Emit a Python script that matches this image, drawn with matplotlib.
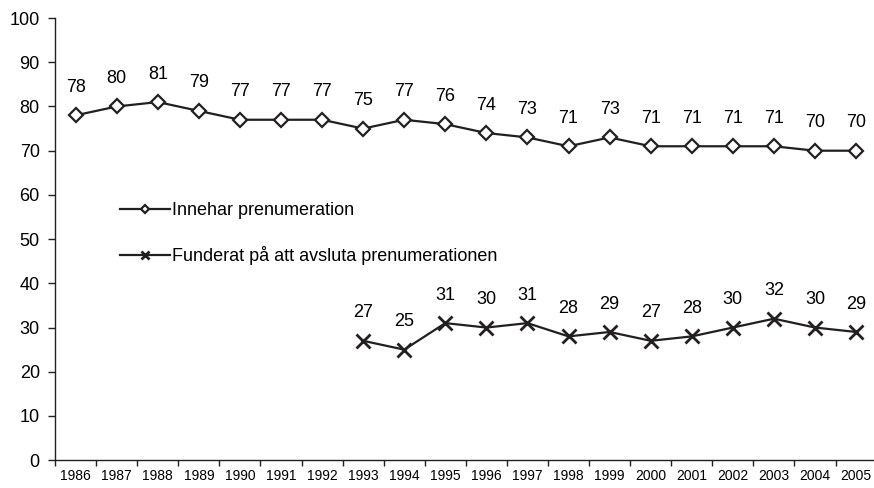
import numpy as np
import matplotlib.pyplot as plt

plt.rcParams['font.family'] = ['Liberation Sans', 'DejaVu Sans']

years = [str(y) for y in range(1986, 2006)]
innehar = [78, 80, 81, 79, 77, 77, 77, 75, 77, 76, 74, 73, 71, 73, 71, 71, 71, 71, 70, 70]
funderat = [np.nan] * 7 + [27, 25, 31, 30, 31, 28, 29, 27, 28, 30, 32, 30, 29]

ink = '#231f20'
x = np.arange(len(years))

fig = plt.figure(figsize=(8.74, 4.88), dpi=100)
ax = fig.add_axes([0.063, 0.057, 0.94, 0.906])

ax.plot(x, innehar, color=ink, lw=1.6, marker='D', markersize=7,
        markerfacecolor='white', markeredgecolor=ink, markeredgewidth=1.6,
        label='Innehar prenumeration')
ax.plot(x, funderat, color=ink, lw=1.6, marker='x', markersize=10,
        markeredgewidth=2, label='Funderat på att avsluta prenumerationen')

for xi, v in zip(x, innehar):
    ax.annotate(str(v), (xi, v), xytext=(0, 14), textcoords='offset points',
                ha='center', va='bottom', fontsize=13, color='black')
for xi, v in zip(x, funderat):
    if not np.isnan(v):
        ax.annotate(str(int(v)), (xi, v), xytext=(0, 14), textcoords='offset points',
                    ha='center', va='bottom', fontsize=13, color='black')

ax.set_xlim(-0.5, len(years) - 0.5)
ax.set_ylim(0, 100)
ax.set_yticks(range(0, 101, 10))
ax.tick_params(axis='y', labelsize=13, length=5, width=1, color=ink, pad=6)
ax.set_xticks(x)
ax.set_xticklabels(years, fontsize=10)
ax.set_xticks(np.arange(-0.5, len(years), 1), minor=True)
ax.tick_params(axis='x', which='major', length=0, pad=6)
ax.tick_params(axis='x', which='minor', length=4, width=1, color=ink)

for s in ['top', 'right']:
    ax.spines[s].set_visible(False)
for s in ['left', 'bottom']:
    ax.spines[s].set_color(ink)
    ax.spines[s].set_linewidth(1)

ax.legend(loc='upper left', bbox_to_anchor=(0.07, 0.60), frameon=False,
          fontsize=13, handlelength=2.8, handletextpad=0.1, labelspacing=1.5,
          markerscale=0.6, borderaxespad=0)

fig.savefig('out.png', dpi=100)
